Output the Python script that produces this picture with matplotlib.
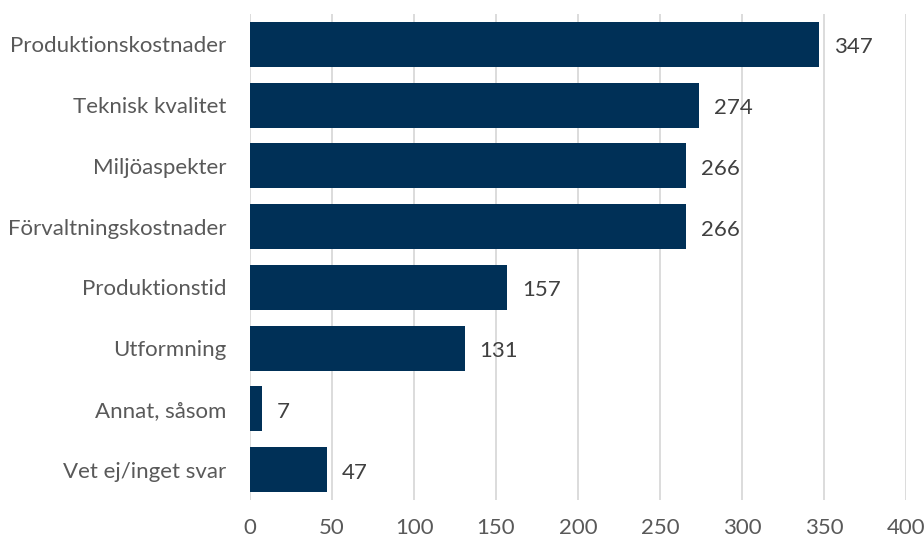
import matplotlib
matplotlib.use("Agg")
import matplotlib.pyplot as plt

categories = ["Produktionskostnader", "Teknisk kvalitet", "Miljöaspekter",
              "Förvaltningskostnader", "Produktionstid", "Utformning",
              "Annat, såsom", "Vet ej/inget svar"]
values = [347, 274, 266, 266, 157, 131, 7, 47]
xticks = [0, 50, 100, 150, 200, 250, 300, 350, 400]

plt.rcParams['font.family'] = ['Lato', 'DejaVu Sans']
fig = plt.figure(figsize=(9.24, 5.4), dpi=100)
ax = fig.add_axes([0.2706, 0.0741, 0.7099, 0.8999])
ypos = list(range(len(categories)))
bars = ax.barh(ypos, values, height=0.74, color="#003057", zorder=3)
ax.set_ylim(len(categories) - 0.5, -0.5)
ax.set_xlim(0, 400)
ax.set_xticks(xticks)
ax.set_yticks(ypos)
ax.set_yticklabels(categories)
ax.grid(axis='x', color="#d9d9d9", linewidth=1.3, zorder=0)
for s in ax.spines.values():
    s.set_visible(False)
ax.tick_params(axis='both', length=0, labelsize=16, colors="#595959")
ax.tick_params(axis='x', pad=13)
ax.tick_params(axis='y', pad=17)
for b, v in zip(bars, values):
    ax.text(b.get_width() + 9, b.get_y() + b.get_height() / 2 + 0.05, str(v),
            va='center', ha='left', fontsize=16, color="#404040")
fig.savefig("out.png", dpi=100)
